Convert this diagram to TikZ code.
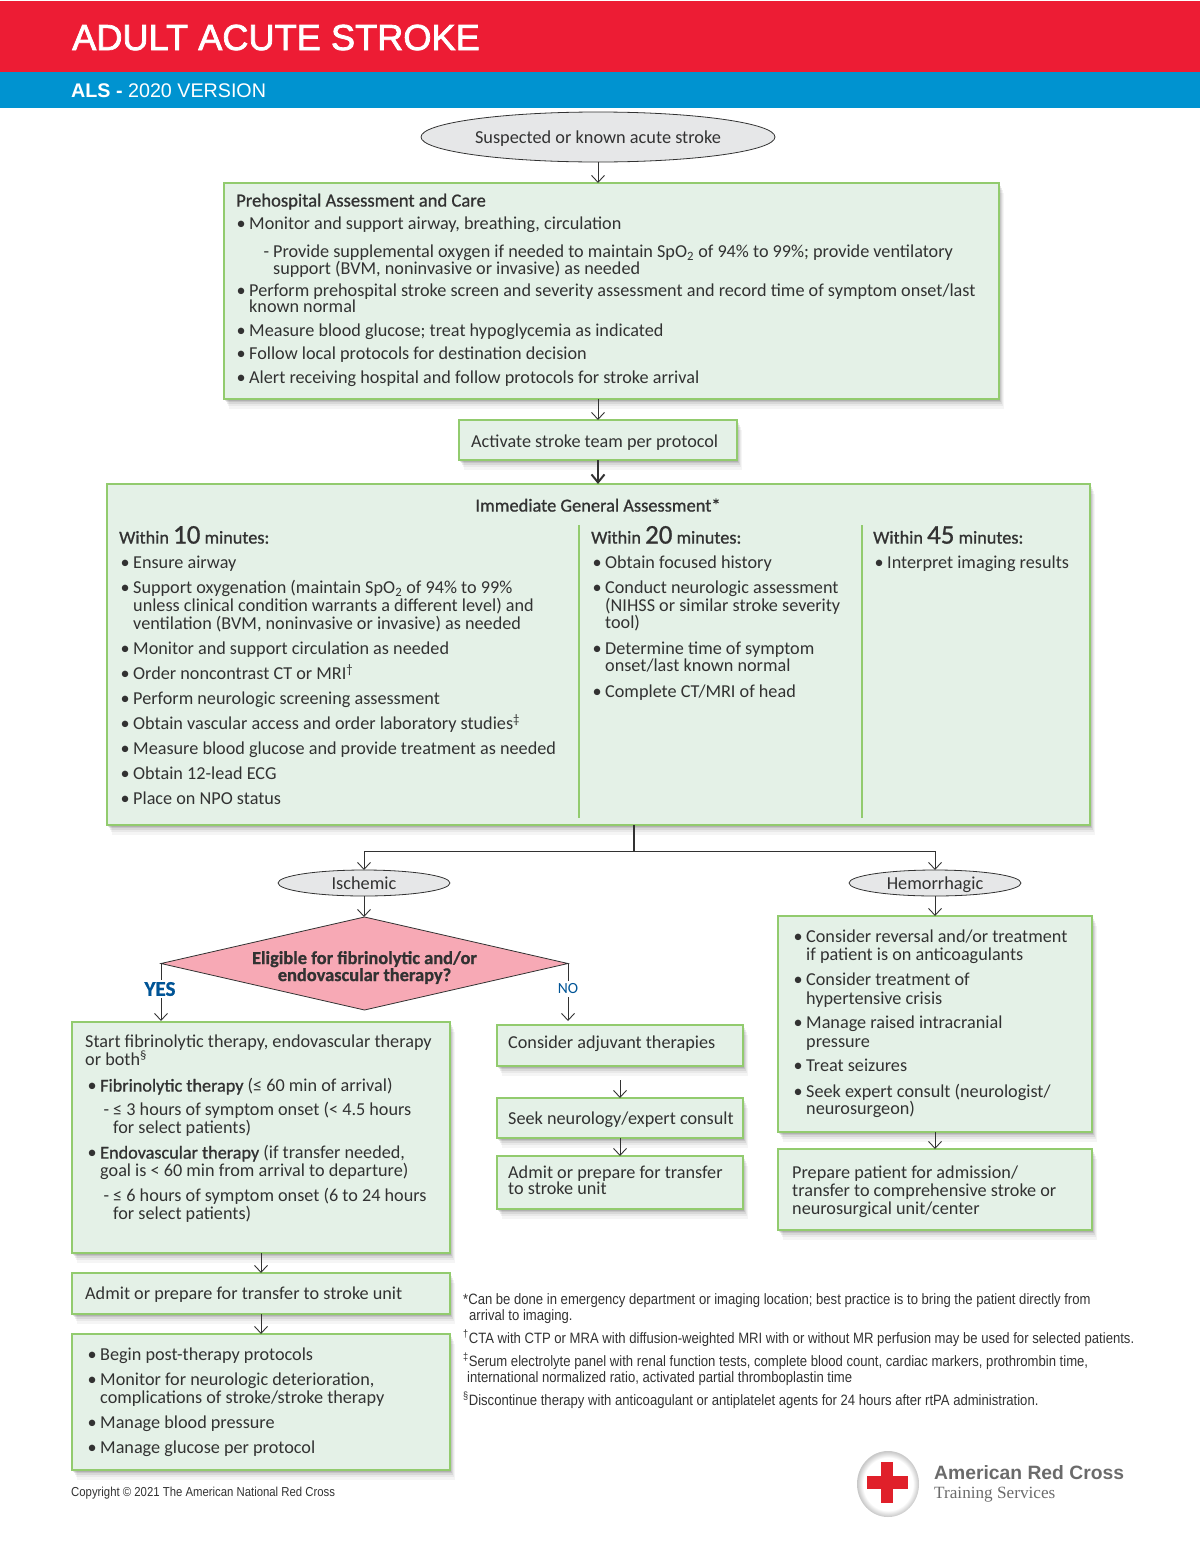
\documentclass[tikz,border=0pt]{standalone}
\usepackage{fontspec}
\setmainfont{Carlito}
\newfontfamily\headfont{Liberation Sans}
\newfontfamily\titlefont[FakeBold=2]{Liberation Sans}
\newfontfamily\notefont[FakeStretch=0.873]{Liberation Sans}
\newfontfamily\medfont[FakeBold=0.9]{Carlito}
\newfontfamily\logoserif{Liberation Serif}
\usetikzlibrary{arrows.meta,shapes.geometric,shadows}
\definecolor{crossred}{RGB}{237,28,52}
\definecolor{logored}{RGB}{224,32,42}
\definecolor{headblue}{RGB}{0,147,208}
\definecolor{boxgreen}{RGB}{146,203,110}
\definecolor{boxfill}{RGB}{228,241,231}
\definecolor{ovalgray}{RGB}{230,231,232}
\definecolor{diapink}{RGB}{247,169,181}
\definecolor{inkgray}{RGB}{50,50,50}
\definecolor{yesblue}{RGB}{0,84,150}
\pgfdeclareradialshading{logoball}{\pgfpointorigin}{color(0bp)=(white); color(20bp)=(white); color(25bp)=(black!22); color(50bp)=(black!22)}
\newcommand{\bl}{\llap{\textbullet\hspace{3.5pt}}}
\newcommand{\ds}{\llap{-\hspace{4pt}}}
\newcommand{\within}[1]{{\medfont Within {\fontsize{27}{27}\selectfont #1} minutes:}}
\tikzset{
  softshadow/.style={
    drop shadow={shadow xshift=1pt,shadow yshift=-1.5pt,fill=black,opacity=.10},
    drop shadow={shadow xshift=2pt,shadow yshift=-3pt,fill=black,opacity=.09},
    drop shadow={shadow xshift=3pt,shadow yshift=-5pt,fill=black,opacity=.07},
    drop shadow={shadow xshift=4pt,shadow yshift=-7pt,fill=black,opacity=.05},
    drop shadow={shadow xshift=5pt,shadow yshift=-10pt,fill=black,opacity=.04}},
  box/.style={rectangle,draw=boxgreen,fill=boxfill,line width=1.5pt,inner sep=0pt,outer sep=0pt,softshadow},
  oval/.style={ellipse,draw=inkgray,fill=ovalgray,line width=.8pt,inner sep=0pt,outer sep=0pt,text=inkgray,text height=13pt,text depth=0pt,font=\fontsize{18.3}{18.3}\selectfont},
  txt/.style={anchor=base west,inner sep=0pt,yshift=-.6pt,text=inkgray,font=\fontsize{18.2}{18.2}\selectfont},
  note/.style={anchor=base west,inner sep=0pt,text=inkgray,font=\notefont\fontsize{15}{15}\selectfont},
  flow/.style={draw=inkgray,line width=.9pt},
  arr/.style={flow,-{Straight Barb[length=7pt,width=13pt,line width=.9pt]}},
}
\begin{document}
\begin{tikzpicture}[x=1pt,y=-1pt]
\useasboundingbox (0,0) rectangle (1200,1558);

\fill[crossred] (0,1) rectangle (1200,72);
\fill[headblue] (0,72) rectangle (1200,108);
\node[anchor=base west,inner sep=0pt,text=white,font=\titlefont\fontsize{36.2}{36.2}\selectfont] (title) at (72,50) {ADULT ACUTE STROKE};
\node[anchor=base west,inner sep=0pt,text=white,font=\headfont\fontsize{19.7}{19.7}\selectfont] (subtitle) at (71,97) {\textbf{ALS -} 2020 VERSION};

% boxes and shapes
\node[oval,minimum width=354,minimum height=50] (start) at (598,137) {Suspected or known acute stroke};
\node[box,minimum width=775,minimum height=216] (pre) at (611.5,291) {};
\node[box,minimum width=278,minimum height=40] (activate) at (598,440) {};
\node[box,minimum width=983,minimum height=341] (gen) at (598.5,654.5) {};
\node[oval,minimum width=172,minimum height=26] (isch) at (364,883) {Ischemic};
\node[oval,minimum width=172,minimum height=26] (hemo) at (935,883) {Hemorrhagic};
\node[diamond,shape aspect=4.38,draw=inkgray,fill=diapink,line width=.8pt,inner sep=0pt,outer sep=0pt,minimum width=407,minimum height=93,align=center,text=inkgray,font=\medfont\fontsize{18.4}{17}\bfseries\selectfont] (elig) at (364.5,963.5) {\rule{0pt}{21pt}Eligible for fibrinolytic and/or\\endovascular therapy?};
\node[box,minimum width=378,minimum height=231] (fib) at (261,1137.5) {};
\node[box,minimum width=378,minimum height=41] (adm) at (261,1293.5) {};
\node[box,minimum width=378,minimum height=136] (post) at (261,1402) {};
\node[box,minimum width=246,minimum height=41] (adj) at (620,1045.5) {};
\node[box,minimum width=246,minimum height=40] (seek) at (620,1118) {};
\node[box,minimum width=246,minimum height=53] (trans) at (620,1182.5) {};
\node[box,minimum width=314,minimum height=216] (hbox) at (935,1024) {};
\node[box,minimum width=314,minimum height=81] (prep) at (935,1189.5) {};

\coordinate (split) at (634,851);
\coordinate (divA) at (579,525);
\coordinate (divB) at (862,525);
\coordinate (divAe) at (579,818);
\coordinate (divBe) at (862,818);
\draw[boxgreen,line width=1.3pt] (divA) -- (divAe);
\draw[boxgreen,line width=1.3pt] (divB) -- (divBe);

% connectors
\draw[arr] (start.south) -- (start.south |- pre.north);
\draw[arr] (activate.north |- pre.south) -- (activate.north);
\draw[flow,line width=2pt,-{Straight Barb[length=8pt,width=13pt,line width=2pt]}] (activate.south) -- (activate.south |- gen.north);
\draw[flow,line width=1.3pt] (split |- gen.south) -- (split);
\draw[arr] (split) -| (isch.north);
\draw[arr] (split) -| (hemo.north);
\draw[arr] (isch.south) -- (isch.south |- elig.north);
\draw[arr] (hemo.south) -- (hemo.south |- hbox.north);

\node[inner sep=2pt,text=yesblue,font=\medfont\fontsize{21}{21}\bfseries\selectfont] (yes) at (160,989) {YES};
\node[inner sep=3pt,text=yesblue,font=\fontsize{15.5}{15.5}\selectfont] (no) at (568,989) {NO};
\draw[flow] (elig.west) -- (elig.west |- yes.north);
\draw[arr,shorten >=1pt] (elig.west |- yes.south) -- (elig.west |- fib.north);
\draw[flow] (elig.east) -- (elig.east |- no.north);
\draw[arr,shorten >=4pt] (elig.east |- no.south) -- (elig.east |- adj.north);

\draw[arr,shorten <=14pt] (adj.south) -- (seek.north);
\draw[arr] (seek.south) -- (trans.north);
\draw[arr] (adm.north |- fib.south) -- (adm.north);
\draw[arr] (adm.south) -- (adm.south |- post.north);
\draw[arr] (hbox.south) -- (prep.north);

% prehospital
\node[txt,font=\medfont\fontsize{18.6}{18.6}\selectfont] (pre0) at (236,206) {Prehospital Assessment and Care};
\node[txt] (pre1) at (249,229) {\bl Monitor and support airway, breathing, circulation};
\node[txt] (pre2) at (273,257) {\ds Provide supplemental oxygen if needed to maintain SpO\textsubscript{2} of 94\% to 99\%; provide ventilatory};
\node[txt] (pre2b) at (273,274) {support (BVM, noninvasive or invasive) as needed};
\node[txt] (pre3) at (249,296) {\bl Perform prehospital stroke screen and severity assessment and record time of symptom onset/last};
\node[txt] (pre3b) at (249,312) {known normal};
\node[txt] (pre4) at (249,336) {\bl Measure blood glucose; treat hypoglycemia as indicated};
\node[txt] (pre5) at (249,359) {\bl Follow local protocols for destination decision};
\node[txt] (pre6) at (249,383) {\bl Alert receiving hospital and follow protocols for stroke arrival};
\node[txt] (act) at (471,447) {Activate stroke team per protocol};

% general assessment
\node[txt,anchor=base,font=\medfont\fontsize{18.4}{18.4}\selectfont] (gen0) at (598,511) {Immediate General Assessment*};
\node[txt] (wa) at (119,543) {\within{10}};
\node[txt] (wb) at (591,543) {\within{20}};
\node[txt] (wc) at (873,543) {\within{45}};

\node[txt] (a1) at (133,568) {\bl Ensure airway};
\node[txt] (a2) at (133,593) {\bl Support oxygenation (maintain SpO\textsubscript{2} of 94\% to 99\%};
\node[txt] (a2b) at (133,611) {unless clinical condition warrants a different level) and};
\node[txt] (a2c) at (133,629) {ventilation (BVM, noninvasive or invasive) as needed};
\node[txt] (a3) at (133,654) {\bl Monitor and support circulation as needed};
\node[txt] (a4) at (133,679) {\bl Order noncontrast CT or MRI\textsuperscript{†}};
\node[txt] (a5) at (133,704) {\bl Perform neurologic screening assessment};
\node[txt] (a6) at (133,729) {\bl Obtain vascular access and order laboratory studies\textsuperscript{‡}};
\node[txt] (a7) at (133,754) {\bl Measure blood glucose and provide treatment as needed};
\node[txt] (a8) at (133,779) {\bl Obtain 12-lead ECG};
\node[txt] (a9) at (133,804) {\bl Place on NPO status};

\node[txt] (b1) at (605,568) {\bl Obtain focused history};
\node[txt] (b2) at (605,593) {\bl Conduct neurologic assessment};
\node[txt] (b2b) at (605,611) {(NIHSS or similar stroke severity};
\node[txt] (b2c) at (605,628) {tool)};
\node[txt] (b3) at (605,654) {\bl Determine time of symptom};
\node[txt] (b3b) at (605,671) {onset/last known normal};
\node[txt] (b4) at (605,697) {\bl Complete CT/MRI of head};
\node[txt] (c1) at (887,568) {\bl Interpret imaging results};

% fibrinolytic
\node[txt] (f1) at (85,1047) {Start fibrinolytic therapy, endovascular therapy};
\node[txt] (f1b) at (85,1065) {or both\textsuperscript{§}};
\node[txt] (f2) at (100,1091) {\bl {\medfont Fibrinolytic therapy} (≤ 60 min of arrival)};
\node[txt] (f3) at (113,1115) {\ds ≤ 3 hours of symptom onset (< 4.5 hours};
\node[txt] (f3b) at (113,1133) {for select patients)};
\node[txt] (f4) at (100,1158) {\bl {\medfont Endovascular therapy} (if transfer needed,};
\node[txt] (f4b) at (100,1176) {goal is < 60 min from arrival to departure)};
\node[txt] (f5) at (113,1201) {\ds ≤ 6 hours of symptom onset (6 to 24 hours};
\node[txt] (f5b) at (113,1219) {for select patients)};
\node[txt] (m1) at (85,1299) {Admit or prepare for transfer to stroke unit};

\node[txt] (p1) at (100,1360) {\bl Begin post-therapy protocols};
\node[txt] (p2) at (100,1385) {\bl Monitor for neurologic deterioration,};
\node[txt] (p2b) at (100,1403) {complications of stroke/stroke therapy};
\node[txt] (p3) at (100,1428) {\bl Manage blood pressure};
\node[txt] (p4) at (100,1453) {\bl Manage glucose per protocol};

% middle column
\node[txt] (j1) at (508,1048) {Consider adjuvant therapies};
\node[txt] (s1) at (508,1124) {Seek neurology/expert consult};
\node[txt] (t1) at (508,1178) {Admit or prepare for transfer};
\node[txt] (t2) at (508,1194) {to stroke unit};

% hemorrhagic
\node[txt] (h1) at (806,942) {\bl Consider reversal and/or treatment};
\node[txt] (h1b) at (806,960) {if patient is on anticoagulants};
\node[txt] (h2) at (806,985) {\bl Consider treatment of};
\node[txt] (h2b) at (806,1004) {hypertensive crisis};
\node[txt] (h3) at (806,1028) {\bl Manage raised intracranial};
\node[txt] (h3b) at (806,1047) {pressure};
\node[txt] (h4) at (806,1071) {\bl Treat seizures};
\node[txt] (h5) at (806,1097) {\bl Seek expert consult (neurologist/};
\node[txt] (h5b) at (806,1114) {neurosurgeon)};
\node[txt] (r1) at (792,1178) {Prepare patient for admission/};
\node[txt] (r2) at (792,1196) {transfer to comprehensive stroke or};
\node[txt] (r3) at (792,1214) {neurosurgical unit/center};

% footnotes
\node[note] (n1) at (463,1304) {*Can be done in emergency department or imaging location; best practice is to bring the patient directly from};
\node[note] (n1b) at (469,1320) {arrival to imaging.};
\node[note] (n2) at (463,1343) {\textsuperscript{†}CTA with CTP or MRA with diffusion-weighted MRI with or without MR perfusion may be used for selected patients.};
\node[note] (n3) at (463,1366) {\textsuperscript{‡}Serum electrolyte panel with renal function tests, complete blood count, cardiac markers, prothrombin time,};
\node[note] (n3b) at (467,1382) {international normalized ratio, activated partial thromboplastin time};
\node[note] (n4) at (463,1405) {\textsuperscript{§}Discontinue therapy with anticoagulant or antiplatelet agents for 24 hours after rtPA administration.};
\node[note,font=\notefont\fontsize{13}{13}\selectfont] (copy) at (71,1496) {Copyright © 2021 The American National Red Cross};

% logo
\shade[shading=logoball] (888,1484) ellipse (31 and 33);
\fill[logored] (881,1462) rectangle (893,1503);
\fill[logored] (867,1476) rectangle (908,1489);
\node[anchor=base west,inner sep=0pt,text=black!58,font=\headfont\fontsize{19.3}{19.3}\bfseries\selectfont] (logoa) at (934,1479) {American Red Cross};
\node[anchor=base west,inner sep=0pt,text=black!58,font=\logoserif\fontsize{17.2}{17.2}\selectfont] (logob) at (934,1498) {Training Services};
\end{tikzpicture}
\end{document}
